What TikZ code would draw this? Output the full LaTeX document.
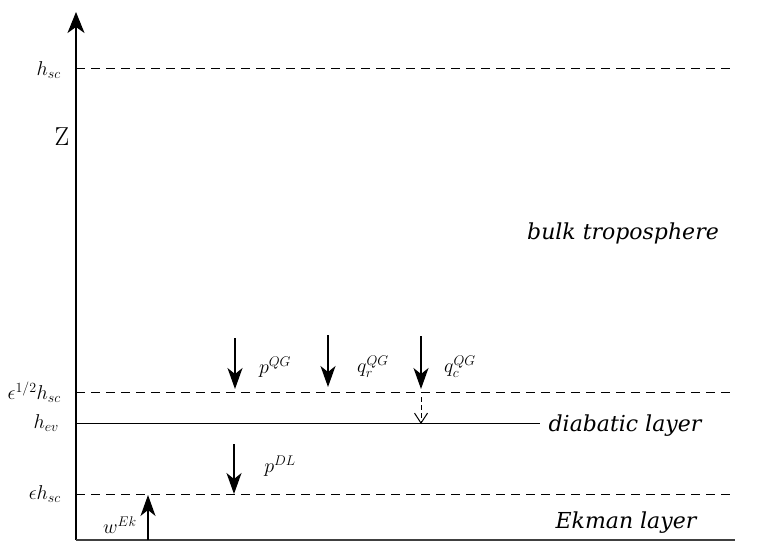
\documentclass[tikz,border=0pt]{standalone}
\usepackage{fix-cm}
\usepackage[no-math]{fontspec}
\setmainfont{DejaVu Serif}
\usetikzlibrary{arrows.meta}
\begin{document}
\begin{tikzpicture}[x=1pt,y=-1pt,
  lvl/.style={line width=1pt},
  dlvl/.style={line width=1pt,dash pattern=on 9pt off 6pt},
  flux/.style={line width=1.4pt,-{Stealth[length=21pt,width=15pt,inset=6pt]}},
  mlab/.style={font=\fontsize{20}{24}\selectfont, inner sep=0pt},
  layer/.style={font=\fontsize{22}{26}\selectfont\itshape, inner sep=0pt}]
\useasboundingbox (0,0) rectangle (759,551);
% axis
\coordinate (ax0) at (76,540);
\coordinate (axT) at (76,12);
\draw[line width=1.2pt,-{Stealth[length=21pt,width=17pt,inset=6pt]}] (ax0) -- (axT);
\coordinate (axR) at (735,540);
\draw[line width=1.2pt, black!75] (ax0) -- (axR);
% levels
\coordinate (hscL) at (76,68);   \coordinate (hscR) at (735,68);
\coordinate (ehL) at (76,392);   \coordinate (ehR) at (735,392);
\coordinate (hevL) at (76,423);  \coordinate (hevR) at (540,423);
\coordinate (e1L) at (76,494);   \coordinate (e1R) at (735,494);
\draw[dlvl] (hscL) -- (hscR);
\draw[dlvl] (ehL) -- (ehR);
\draw[lvl] (hevL) -- (hevR);
\draw[dlvl] (e1L) -- (e1R);
% axis labels
\node[mlab, anchor=east] (lhsc) at (61,70) {$h_{sc}$};
\node[font=\fontsize{26}{30}\selectfont, inner sep=0pt] (lZ) at (62,137) {$\mathrm{Z}$};
\node[mlab, anchor=east] (leh) at (61,392) {$\epsilon^{1/2}h_{sc}$};
\node[mlab, anchor=east] (lhev) at (59,423) {$h_{ev}$};
\node[mlab, anchor=east] (le1) at (61,494) {$\epsilon h_{sc}$};
% layer labels
\node[layer] (bulk) at (623,233) {bulk troposphere};
\node[layer] (diab) at (625,426) {diabatic layer};
\node[layer] (ekm) at (626,523) {Ekman layer};
% fluxes
\coordinate (p1a) at (235,338); \coordinate (p1b) at (235,389);
\coordinate (p2a) at (328,335); \coordinate (p2b) at (328,387);
\coordinate (p3a) at (421,336); \coordinate (p3b) at (421,389);
\coordinate (p4a) at (421,397); \coordinate (p4b) at (421,424);
\coordinate (p5a) at (234,444); \coordinate (p5b) at (234,494);
\coordinate (w1a) at (148,540); \coordinate (w1b) at (148,495);
\draw[flux] (p1a) -- (p1b);
\draw[flux] (p2a) -- (p2b);
\draw[flux] (p3a) -- (p3b);
\draw[line width=1pt,dash pattern=on 5pt off 3pt,-{Straight Barb[length=10pt,width=13pt]}] (p4a) -- (p4b);
\draw[flux] (p5a) -- (p5b);
\draw[flux] (w1a) -- (w1b);
\node[mlab] (lp1) at (275,367) {$p^{QG}$};
\node[mlab] (lp2) at (373,367) {$q_r^{QG}$};
\node[mlab] (lp3) at (460,367) {$q_c^{QG}$};
\node[mlab] (lp5) at (280,466) {$p^{DL}$};
\node[mlab] (lw) at (120,525) {$w^{Ek}$};
\end{tikzpicture}
\end{document}
